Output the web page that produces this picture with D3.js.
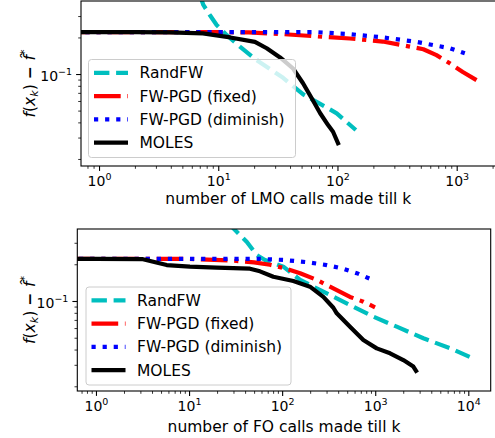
<!DOCTYPE html>
<html>
<head>
<meta charset="utf-8">
<script src="https://cdn.jsdelivr.net/npm/d3@7"></script>
<style>
  body { margin: 0; background: #fff; }
  svg { display: block; font-family: "DejaVu Sans", sans-serif; }
</style>
</head>
<body>
<div id="chart"></div>
<script>
// ---- data (x = calls, y = f(x_k) - f*) ----
const seriesNames = ["RandFW", "FW-PGD (fixed)", "FW-PGD (diminish)", "MOLES"];

// top panel: LMO calls
const lmoRandFW = [[7.0, 0.45], [7.5, 0.37], [8.5, 0.306], [9.7, 0.253], [11.8, 0.209], [15.2, 0.168],
    [21, 0.13], [35, 0.093], [51.6, 0.068], [66.8, 0.059], [98.6, 0.0475], [142.6, 0.0346]];
const lmoFixed = [[0.5, 0.221], [1, 0.221], [10, 0.221], [18, 0.22], [35, 0.213], [67, 0.204], [127, 0.196],
    [240, 0.185], [405, 0.168], [525, 0.16], [677, 0.143], [875, 0.1225], [1125, 0.104], [1466, 0.089]];
const lmoDiminish = [[0.5, 0.221], [1, 0.221], [67, 0.221], [127, 0.213], [240, 0.2], [460, 0.184],
    [875, 0.163], [1170, 0.148]];
const lmoMoles = [[0.5, 0.221], [1, 0.221], [2, 0.221], [3.9, 0.22], [7.45, 0.216], [12.6, 0.2], [20.3, 0.184],
    [25.5, 0.163], [33, 0.137], [42.4, 0.111], [51.4, 0.0839], [60.8, 0.0631], [71.4, 0.0478],
    [83.4, 0.038], [91.8, 0.0335], [101, 0.027]];

// bottom panel: FO calls
const foRandFW = [[27, 0.45], [29.9, 0.394], [41.6, 0.306], [53.3, 0.238], [65.4, 0.217], [103, 0.191],
    [156, 0.149], [235, 0.127], [386, 0.105], [536, 0.0927], [953, 0.0744], [1702, 0.0616],
    [3288, 0.0495], [6363, 0.041], [11150, 0.0339]];
const foFixed = [[0.5, 0.221], [1, 0.221], [10, 0.221], [30, 0.214], [50, 0.207], [74, 0.198], [102, 0.187],
    [156, 0.169], [235, 0.149], [355, 0.127], [536, 0.108], [745, 0.0987], [995, 0.0888]];
const foDiminish = [[0.5, 0.221], [1, 0.221], [60, 0.221], [103, 0.217], [184, 0.208], [300, 0.197],
    [450, 0.184], [633, 0.169], [995, 0.146]];
const foMoles = [[0.5, 0.221], [1, 0.221], [3.2, 0.22], [5.75, 0.197], [10.2, 0.191], [19.8, 0.188],
    [45.1, 0.184], [57.8, 0.175], [80.4, 0.158], [132, 0.146], [199, 0.131], [277, 0.108], [355, 0.088],
    [386, 0.0793], [536, 0.0616], [745, 0.0479], [1038, 0.0409], [1443, 0.0373], [2004, 0.0328],
    [2567, 0.029], [2743, 0.0268]];

const lmoXTicks = [1, 10, 100, 1000];
const foXTicks = [1, 10, 100, 1000, 10000];
const yTicks = [0.1];

// ---- styles ----
const colors = ["#00bfbf", "#ff0000", "#0000ff", "#000000"];
const dashes = ["15.4,6.7", "26.7,6.7,4.2,6.7", "4.2,6.9", null];
const LW = 4.2;

const svg = d3.select("#chart").append("svg")
    .attr("width", 495)
    .attr("height", 438);

function minorTicks(domain) {
    let out = [];
    let lo = Math.floor(Math.log10(domain[0])), hi = Math.ceil(Math.log10(domain[1]));
    for (let e = lo; e <= hi; e++) {
        for (let m = 2; m <= 9; m++) {
            let v = m * Math.pow(10, e);
            if (v >= domain[0] && v <= domain[1]) out.push(v);
        }
    }
    return out;
}

function powLabel(sel, exp) {
    sel.text(null);
    sel.append("tspan").text("10");
    sel.append("tspan").attr("font-size", "9.5px").attr("dy", "-6").text(exp);
}

function drawPanel(cfg) {
    let g = svg.append("g");
    let x = d3.scaleLog().domain(cfg.xDomain).range([cfg.left, cfg.right]);
    let y = d3.scaleLog().domain(cfg.yDomain).range([cfg.bottom, cfg.top]);

    g.append("clipPath").attr("id", cfg.id + "_clip")
        .append("rect")
        .attr("x", cfg.left).attr("y", cfg.top)
        .attr("width", cfg.right - cfg.left).attr("height", cfg.bottom - cfg.top);

    // lines
    let line = d3.line().x(d => x(d[0])).y(d => y(d[1]));
    let lines = g.append("g").attr("clip-path", "url(#" + cfg.id + "_clip)");
    cfg.series.forEach((s, i) => {
        lines.append("path")
            .attr("d", line(s))
            .attr("fill", "none")
            .attr("stroke", colors[i])
            .attr("stroke-width", LW)
            .attr("stroke-linejoin", "round")
            .attr("stroke-linecap", dashes[i] ? "butt" : "square")
            .attr("stroke-dasharray", dashes[i]);
    });

    // x axis
    let xMajor = g.append("g")
        .attr("transform", "translate(0," + cfg.bottom + ")")
        .call(d3.axisBottom(x).tickValues(cfg.xTicks).tickSize(4.9).tickPadding(5));
    xMajor.selectAll("text")
        .attr("font-size", "14px").attr("font-family", "DejaVu Sans").attr("fill", "#000")
        .each(function (d) { powLabel(d3.select(this), String(Math.round(Math.log10(d)))); });
    let xMinor = g.append("g")
        .attr("transform", "translate(0," + cfg.bottom + ")")
        .call(d3.axisBottom(x).tickValues(minorTicks(x.domain())).tickSize(2.8).tickFormat(""));
    xMinor.selectAll("line").attr("stroke-width", 0.8);

    // y axis
    let yMajor = g.append("g")
        .attr("transform", "translate(" + cfg.left + ",0)")
        .call(d3.axisLeft(y).tickValues(yTicks).tickSize(4.9).tickPadding(4));
    yMajor.selectAll("text")
        .attr("font-size", "14px").attr("font-family", "DejaVu Sans").attr("fill", "#000")
        .attr("dy", "0.45em")
        .each(function (d) { powLabel(d3.select(this), "\u22121"); });
    let yMinor = g.append("g")
        .attr("transform", "translate(" + cfg.left + ",0)")
        .call(d3.axisLeft(y).tickValues(minorTicks(y.domain())).tickSize(2.8).tickFormat(""));
    yMinor.selectAll("line").attr("stroke-width", 0.8);

    g.selectAll(".domain").remove();
    g.selectAll(".tick line").attr("stroke", "#000");
    xMajor.selectAll(".tick line").attr("stroke-width", 1.1);
    yMajor.selectAll(".tick line").attr("stroke-width", 1.1);

    // frame
    g.append("rect")
        .attr("x", cfg.left).attr("y", cfg.top)
        .attr("width", cfg.right - cfg.left).attr("height", cfg.bottom - cfg.top)
        .attr("fill", "none").attr("stroke", "#000").attr("stroke-width", 1.1);

    // axis labels
    g.append("text")
        .attr("x", (cfg.left + cfg.right) / 2)
        .attr("y", cfg.xLabelY)
        .attr("text-anchor", "middle")
        .attr("font-size", "15.5px")
        .text(cfg.xLabel);

    let yl = g.append("text")
        .attr("transform", "translate(" + cfg.yLabelX + "," + (cfg.top + cfg.bottom) / 2 + ") rotate(-90)")
        .attr("text-anchor", "middle")
        .attr("font-size", "15.5px");
    yl.append("tspan").attr("font-style", "italic").text("f");
    yl.append("tspan").text("(");
    yl.append("tspan").attr("font-style", "italic").text("x");
    yl.append("tspan").attr("font-style", "italic").attr("font-size", "11px").attr("dy", 3).text("k");
    yl.append("tspan").attr("dy", -3).text(")");
    yl.append("tspan").attr("font-weight", "bold").text(" \u2212 ");
    yl.append("tspan").attr("font-style", "italic").text("f\u0302");
    yl.append("tspan").attr("font-size", "11px").attr("dy", -7).text("*");

    // legend
    let lg = g.append("g").attr("transform", "translate(" + cfg.legend[0] + "," + cfg.legend[1] + ")");
    lg.append("rect")
        .attr("width", cfg.legendW).attr("height", 98)
        .attr("rx", 3)
        .attr("fill", "#fff").attr("fill-opacity", 0.8)
        .attr("stroke", "#cccccc").attr("stroke-width", 1);
    seriesNames.forEach((name, i) => {
        let cy = 13.3 + i * 23.3;
        lg.append("line")
            .attr("x1", 5.5).attr("x2", 39.5)
            .attr("y1", cy).attr("y2", cy)
            .attr("stroke", colors[i])
            .attr("stroke-width", LW)
            .attr("stroke-dasharray", dashes[i]);
        lg.append("text")
            .attr("x", 51).attr("y", cy + 5.5)
            .attr("font-size", "15.5px")
            .text(name);
    });
}

drawPanel({
    id: "top", left: 81, right: 495.6, top: 1, bottom: 166,
    xDomain: [0.706, 2120], yDomain: [0.0175, 0.399],
    xTicks: lmoXTicks,
    series: [lmoRandFW, lmoFixed, lmoDiminish, lmoMoles],
    xLabel: "number of LMO calls made till k", xLabelY: 204,
    yLabelX: 35,
    legend: [88.5, 59.5], legendW: 207
});

drawPanel({
    id: "bot", left: 77.3, right: 490.7, top: 229, bottom: 391,
    xDomain: [0.630, 17400], yDomain: [0.0183, 0.389],
    xTicks: foXTicks,
    series: [foRandFW, foFixed, foDiminish, foMoles],
    xLabel: "number of FO calls made till k", xLabelY: 431.5,
    yLabelX: 35,
    legend: [86, 287], legendW: 205
});
</script>
</body>
</html>
